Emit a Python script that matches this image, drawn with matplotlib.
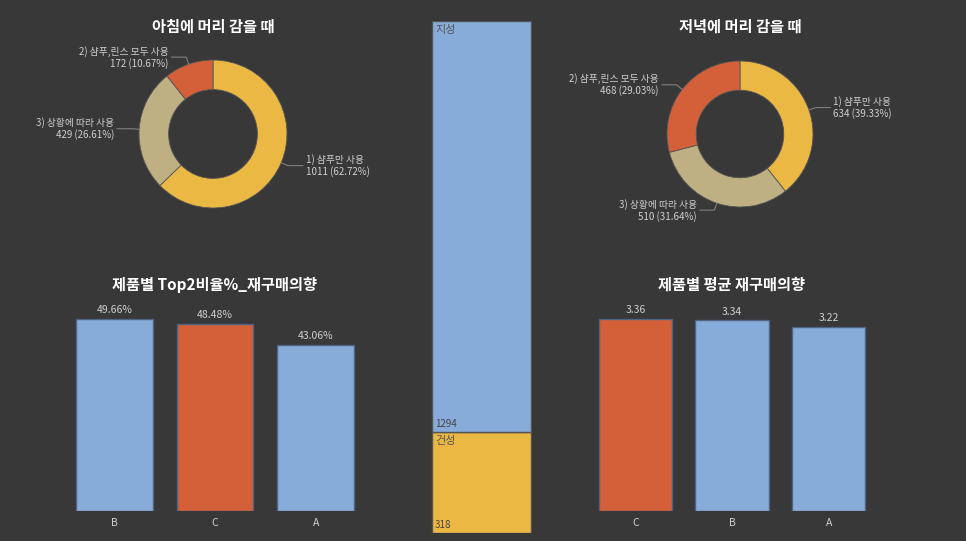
import numpy as np
import matplotlib.pyplot as plt
from matplotlib import font_manager

names = {f.name for f in font_manager.fontManager.ttflist}
cjk = [n for n in ['Noto Sans CJK KR', 'Noto Sans CJK JP', 'Noto Sans CJK SC'] if n in names]
plt.rcParams['font.family'] = cjk + ['DejaVu Sans']

# data
am_labels = ['1) 샴푸만 사용', '3) 상황에 따라 사용', '2) 샴푸,린스 모두 사용']
am_values = [1011, 429, 172]
pm_labels = ['1) 샴푸만 사용', '3) 상황에 따라 사용', '2) 샴푸,린스 모두 사용']
pm_values = [634, 510, 468]
skin_labels = ['지성', '건성']
skin_values = [1294, 318]
top2_products = ['B', 'C', 'A']
top2_values = [49.66, 48.48, 43.06]
avg_products = ['C', 'B', 'A']
avg_values = [3.36, 3.34, 3.22]

BG = '#383838'
YEL = '#EBB844'
TAN = '#BFB084'
RED = '#D4603A'
BLUE = '#88ACDA'
TXT = '#d0d0d0'

W, H = 966, 541
fig = plt.figure(figsize=(W / 100, H / 100), dpi=100, facecolor=BG)


def px_axes(x0, y0, x1, y1):
    # pixel box (top-left origin) -> figure axes
    ax = fig.add_axes([x0 / W, 1 - y1 / H, (x1 - x0) / W, (y1 - y0) / H])
    ax.set_facecolor(BG)
    return ax


def donut(cx, cy, r, labels, values, title):
    ax = px_axes(cx - 150, cy - 150, cx + 150, cy + 150)
    wedges, _ = ax.pie(values, colors=[YEL, TAN, RED], startangle=90, counterclock=False,
                       radius=1, wedgeprops=dict(width=0.4, edgecolor='#555555', linewidth=0.6))
    ax.set_xlim(-150 / r, 150 / r)
    ax.set_ylim(-150 / r, 150 / r)
    ax.axis('off')
    total = sum(values)
    for w, lab, v in zip(wedges, labels, values):
        ang = np.deg2rad((w.theta1 + w.theta2) / 2)
        x, y = np.cos(ang), np.sin(ang)
        side = 1 if x >= 0 else -1
        ex, ey = 1.1 * x, 1.1 * y
        tx = ex + side * 0.2
        ax.plot([x, ex, tx], [y, ey, ey], color='#888888', lw=0.7)
        ax.text(tx + side * 0.04, ey, '%s\n%d (%.2f%%)' % (lab, v, v / total * 100),
                ha='left' if side > 0 else 'right', va='center', fontsize=7,
                color=TXT, linespacing=1.1, multialignment='left' if side > 0 else 'right')
    fig.text(cx / W, 1 - 27 / H, title, ha='center', va='center', fontsize=11,
             fontweight='bold', color='white')


donut(213, 134, 74, am_labels, am_values, '아침에 머리 감을 때')
donut(740, 134, 73, pm_labels, pm_values, '저녁에 머리 감을 때')

# center stacked bar
ax = px_axes(431, 21, 532, 533)
ax.set_xlim(0, 1)
ax.set_ylim(0, sum(skin_values))
ax.axis('off')
bottom = 0
for lab, v, c in zip(reversed(skin_labels), reversed(skin_values), [YEL, BLUE]):
    ax.bar(0.5, v, width=0.99, bottom=bottom, color=c, edgecolor='#555555', linewidth=1)
    ax.text(0.04, bottom + v - 12, lab, ha='left', va='top', fontsize=8, color='#555555')
    ax.text(0.04, bottom + 8, str(v), ha='left', va='bottom', fontsize=7, color='#444444')
    bottom += v


def bars(x0, x1, cats, vals, colors, ymax, fmt, title, tx):
    ax = px_axes(x0, 271, x1, 511)
    ax.bar(range(len(cats)), vals, width=0.76, color=colors, edgecolor='#4f6482', linewidth=1)
    ax.set_xlim(-0.5, len(cats) - 0.5)
    ax.set_ylim(0, ymax)
    for i, v in enumerate(vals):
        ax.text(i, v + ymax * 0.015, fmt % v, ha='center', va='bottom', fontsize=7.5, color=TXT)
    ax.set_xticks(range(len(cats)))
    ax.set_xticklabels(cats, fontsize=7.5, color=TXT)
    ax.tick_params(length=0, pad=5)
    ax.set_yticks([])
    for s in ax.spines.values():
        s.set_visible(False)
    fig.text(tx / W, 1 - 285 / H, title, ha='center', va='center', fontsize=11,
             fontweight='bold', color='white')


bars(64, 366, top2_products, top2_values, [BLUE, RED, BLUE], 62.07, '%.2f%%',
     '제품별 Top2비율%_재구매의향', 215)
bars(587, 877, avg_products, avg_values, [RED, BLUE, BLUE], 4.2, '%.2f',
     '제품별 평균 재구매의향', 732)

fig.savefig('out.png', dpi=100, facecolor=BG)
